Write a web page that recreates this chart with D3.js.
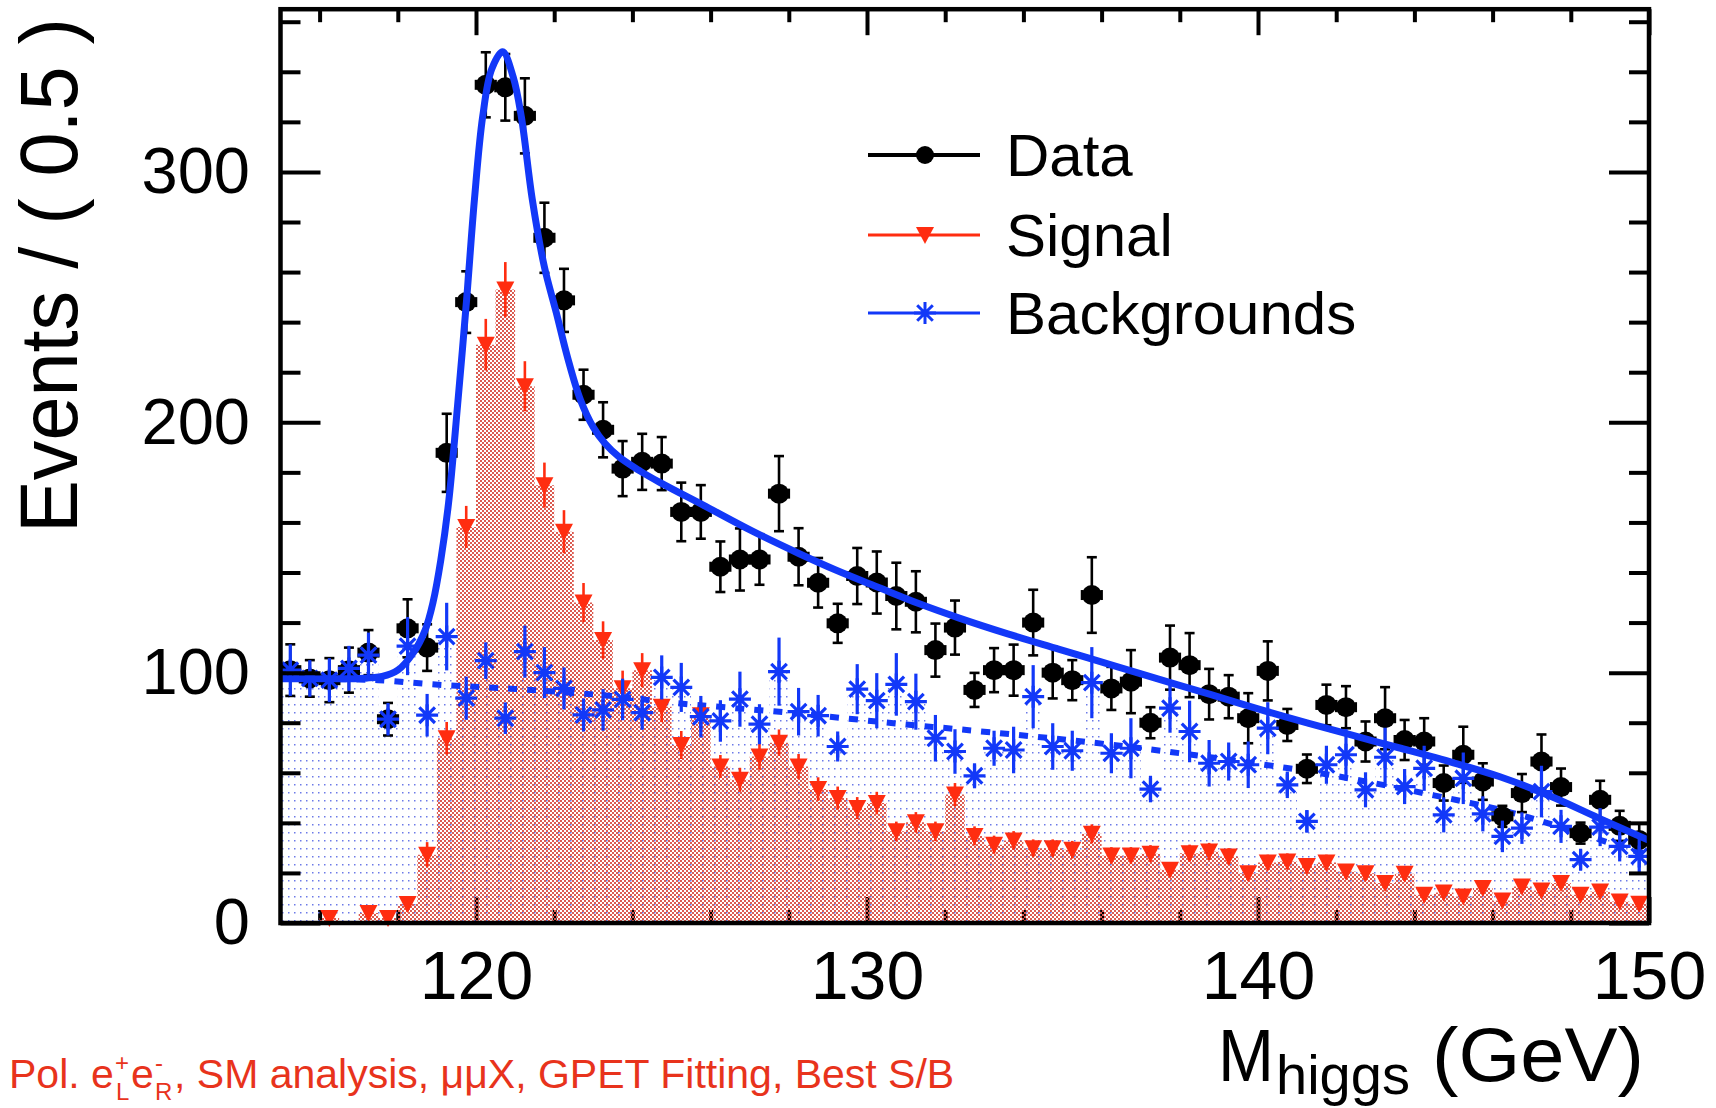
<!DOCTYPE html>
<html>
<head>
<meta charset="utf-8">
<script src="https://cdn.jsdelivr.net/npm/d3@7"></script>
<style>
  body { margin: 0; background: #fff; }
  svg { display: block; font-family: "Liberation Sans", Helvetica, Arial, sans-serif; }
</style>
</head>
<body>
<div id="chart"></div>
<script>
// histogram binning: 70 bins of 0.5 GeV from 115 to 150
const binLow = 115, binWidth = 0.5;

const dataCounts = [101, 97.7, 97, 101, 108, 81.4, 117.7, 110, 187.8, 248,
  334.8, 333.8, 322.4, 273.7, 248.7, 211, 197, 181.5, 184.2, 183.5,
  164.2, 164.2, 142.3, 145.2, 145.2, 171.5, 146.3, 135.9, 119.7, 138.6,
  136, 130.6, 128.3, 109, 118, 93.1, 101, 101, 120, 100,
  97, 131, 93.7, 96.4, 80, 106, 103, 91.4, 90.4, 81.8,
  100.7, 79.1, 61.6, 87.1, 86.2, 72.5, 81.8, 73.1, 72.5, 55.9,
  67.2, 56.5, 42.6, 51.9, 64.5, 54.3, 35.9, 49.2, 38.8, 33.2];
const dataErrors = [10.3, 7.3, 8.8, 9, 9, 6.5, 11.6, 9.3, 15.6, 12.3,
  13, 13.3, 15, 14, 12.6, 10, 11, 11, 11.2, 10.6,
  11.7, 10.7, 10.1, 12.4, 10.1, 15, 11.4, 9.9, 7.8, 11.2,
  12.4, 13.3, 12.2, 10.6, 10.8, 6.8, 8.8, 10.2, 13.1, 10.3,
  8, 15.1, 8.6, 12.6, 6.2, 12.8, 12.8, 10.1, 8.6, 10,
  11.8, 6.4, 5.7, 8.1, 8.4, 8, 12.4, 8, 9.3, 7,
  11.2, 7.3, 4.2, 7.6, 10.8, 7.4, 4.2, 7.6, 6, 6.6];

const signalCounts = [0, 0, 2, 0, 4, 2, 7.6, 27.3, 73.8, 158.2,
  231, 253, 214.4, 174.9, 156.3, 128, 113, 93.8, 101, 86.4,
  71.1, 83, 62.5, 57.2, 66.5, 72, 62.5, 53.5, 49.9, 45.9,
  47.9, 36.6, 40.2, 36.6, 51.3, 34.8, 31.3, 33, 29.9, 29.9,
  29.3, 35.6, 27, 27, 27.7, 21.3, 27.9, 28.6, 26.6, 19.9,
  24.2, 24.6, 22.8, 24.2, 20.6, 19.9, 16, 19.7, 11.3, 12.2,
  10.6, 14, 9, 14.6, 13, 16, 11.3, 12.6, 8.6, 7.7];
const signalErrors = [0, 0, 1.5, 0, 2, 1.5, 3, 5, 6.5, 8.4,
  10.3, 11, 10, 9, 8.6, 7.8, 7.5, 7, 6.8, 6.2,
  5.6, 6, 4.6, 4.8, 5.3, 5.3, 5, 4.7, 4.6, 4.4,
  4.5, 3.9, 4.1, 3.9, 4.6, 3.8, 3.6, 3.7, 3.5, 3.5,
  3.5, 3.8, 3.3, 3.3, 3.4, 3, 3.4, 3.4, 3.3, 2.9,
  3.1, 3.2, 3, 3.1, 2.9, 2.9, 2.6, 2.9, 2.2, 2.3,
  2.1, 2.5, 2, 2.5, 2.3, 2.6, 2.2, 2.3, 1.9, 1.8];

const bkgCounts = [101, 97.7, 97, 101.7, 107, 81.4, 110.6, 83, 114.4, 89.8,
  104.8, 81.8, 108.4, 100, 93.7, 83.1, 85.1, 89.3, 84, 98.1,
  94.1, 82.4, 80.7, 89.4, 79.4, 100.4, 84.4, 82.8, 70.5, 93.4,
  88.8, 95.3, 88.4, 73.8, 68.5, 58.8, 69.8, 69.1, 90.4, 70.5,
  68.8, 96, 67.8, 69.8, 53.5, 85.8, 76.5, 63.8, 64.5, 63.2,
  77.8, 55.2, 40.6, 63.2, 67.2, 53.2, 66.2, 54.5, 61.8, 43.2,
  57.8, 43.6, 34.6, 37.9, 52.5, 38.6, 25.3, 38.3, 30.6, 26.6];
const bkgErrors = [10.3, 7.3, 8.8, 9, 9, 6.5, 11.6, 8.5, 13.5, 8.6,
  7.3, 6.3, 10.4, 10.2, 8.4, 6.6, 8.3, 8.3, 6.8, 8.8,
  9.8, 8.3, 8.3, 11, 8, 13.6, 9.5, 8.3, 6, 10,
  11, 12.5, 11.2, 9.3, 8.9, 5, 7, 9.3, 12.6, 9.3,
  8, 14.2, 8, 12, 5.3, 9.8, 12.3, 9.3, 7.6, 9.3,
  10.4, 5.3, 4.5, 7.6, 10.3, 7, 11.8, 7, 9, 7,
  10.3, 7, 6.3, 6.3, 10.3, 6.6, 4, 7.6, 6, 7];

// fitted curves (mass in GeV, events)
const fitTotalMass = [115, 116, 117, 117.6, 118, 118.4, 118.7, 118.9, 119.1, 119.3,
  119.53, 119.76, 119.96, 120.17, 120.4, 120.68, 120.95, 121.16, 121.44, 121.75,
  122.05, 122.34, 122.67, 123, 123.3, 123.67, 124.2, 124.7, 125.8, 127.07,
  128.27, 129.2, 130.3, 131.34, 132.36, 133.6, 134.92, 136.2, 137.5, 138.8,
  140, 141.3, 142.5, 143.6, 145, 146.17, 147.5, 148.7, 150];
const fitTotalVal = [97.6, 97.6, 97.7, 98.5, 101, 108, 117, 128, 145, 168,
  207, 249, 289, 322, 341, 348, 338, 322, 289, 262,
  244, 226, 209, 198, 191.5, 186, 180.5, 176, 167, 156.5,
  147.5, 141, 134, 127.5, 121.8, 115.5, 109.3, 103.3, 97.2, 91.2,
  85.5, 79.7, 74.6, 70, 64, 58.5, 50.5, 42, 33];
const fitBkgMass = [115, 116.5, 117.5, 119.2, 121, 123.6, 125, 128, 131, 132.4,
  135.8, 138.4, 140.7, 141.9, 144.5, 146.5, 148.3, 149.6, 150];
const fitBkgVal = [97.6, 97.4, 97, 95, 93.5, 90.5, 88, 84, 79.3, 77.3,
  72, 67, 62, 59, 51, 44, 35.5, 29, 27.5];

const xTicksMajor = [120, 130, 140, 150];
const yTicksMajor = [0, 100, 200, 300];
const legendLabels = ["Data", "Signal", "Backgrounds"];

const W = 1716, H = 1108;
const blue = "#1238f8", red = "#ff2d10", noteRed = "#e8331c";

const svg = d3.select("#chart").append("svg")
  .attr("width", W).attr("height", H);

const x = d3.scaleLinear().domain([115, 150]).range([280.5, 1649]);
const y = d3.scaleLinear().domain([0, 365]).range([923, 9.2]);

// fill patterns (ROOT style dots / checker)
const defs = svg.append("defs");
const dots = defs.append("pattern").attr("id", "bkgDots")
  .attr("patternUnits", "userSpaceOnUse").attr("width", 6).attr("height", 8);
dots.append("rect").attr("x", 0).attr("y", 0).attr("width", 1.5).attr("height", 1.5).attr("fill", "#6c7ae8");
const check = defs.append("pattern").attr("id", "sigCheck")
  .attr("patternUnits", "userSpaceOnUse").attr("width", 4).attr("height", 4);
check.append("rect").attr("x", 0).attr("y", 0).attr("width", 2).attr("height", 2).attr("fill", "#dc5a50");
check.append("rect").attr("x", 2).attr("y", 2).attr("width", 2).attr("height", 2).attr("fill", "#dc5a50");

const centers = dataCounts.map((d, i) => binLow + binWidth * (i + 0.5));

function styleTicks(g) {
  g.select(".domain").remove();
  g.selectAll(".tick line").attr("stroke", "#000").attr("stroke-width", 4);
}

// bottom axis (ticks sit under the fills)
const minorX = d3.range(116, 150, 2).filter(v => v % 10 !== 0);
const minorY = d3.range(20, 365, 20).filter(v => v % 100 !== 0);

svg.append("g").attr("transform", `translate(0,${y(0)})`)
  .call(d3.axisBottom(x).tickValues(xTicksMajor).tickSize(-26).tickPadding(28).tickFormat(d3.format("d")))
  .call(styleTicks)
  .call(g => g.selectAll("text").attr("font-size", 68).attr("fill", "#000")
    .attr("font-family", "'Liberation Sans', Helvetica, Arial, sans-serif"));
svg.append("g").attr("transform", `translate(0,${y(0)})`)
  .call(d3.axisBottom(x).tickValues(minorX).tickSize(-13).tickFormat(""))
  .call(styleTicks);

// histogram fills
function stepPoints(vals) {
  const pts = vals.map((v, i) => [binLow + binWidth * i, v]);
  pts.push([binLow + binWidth * vals.length, vals[vals.length - 1]]);
  return pts;
}
const stepArea = d3.area()
  .x(d => x(d[0])).y0(y(0)).y1(d => y(d[1]))
  .curve(d3.curveStepAfter);

svg.append("path").datum(stepPoints(bkgCounts))
  .attr("d", stepArea).attr("fill", "url(#bkgDots)");
svg.append("path").datum(stepPoints(signalCounts))
  .attr("d", stepArea).attr("fill", "url(#sigCheck)");

// background fit component (dashed)
const fitLine = d3.line().x(d => x(d[0])).y(d => y(d[1])).curve(d3.curveCatmullRom.alpha(0.5));
svg.append("path").datum(fitBkgMass.map((m, i) => [m, fitBkgVal[i]]))
  .attr("d", fitLine).attr("fill", "none").attr("stroke", blue)
  .attr("stroke-width", 6).attr("stroke-dasharray", "9,10");

// data points with error bars
const half = binWidth / 2;
const gData = svg.append("g").attr("stroke", "#000").attr("stroke-width", 2.6);
centers.forEach((c, i) => {
  const v = dataCounts[i], e = dataErrors[i];
  const cx = x(c), cy = y(v);
  gData.append("line").attr("x1", cx).attr("x2", cx).attr("y1", y(v - e)).attr("y2", y(v + e));
  gData.append("line").attr("x1", cx - 5).attr("x2", cx + 5).attr("y1", y(v - e)).attr("y2", y(v - e));
  gData.append("line").attr("x1", cx - 5).attr("x2", cx + 5).attr("y1", y(v + e)).attr("y2", y(v + e));
  gData.append("line").attr("x1", x(c - half)).attr("x2", x(c + half)).attr("y1", cy).attr("y2", cy);
  gData.append("line").attr("x1", x(c - half)).attr("x2", x(c - half)).attr("y1", cy - 5).attr("y2", cy + 5);
  gData.append("line").attr("x1", x(c + half)).attr("x2", x(c + half)).attr("y1", cy - 5).attr("y2", cy + 5);
});
gData.selectAll("circle").data(centers).enter().append("circle")
  .attr("cx", d => x(d)).attr("cy", (d, i) => y(dataCounts[i]))
  .attr("r", 10).attr("fill", "#000").attr("stroke", "none");

// signal triangles
const triDown = "M-9,-8L9,-8L0,9Z";
const gSig = svg.append("g");
centers.forEach((c, i) => {
  const v = signalCounts[i], e = signalErrors[i];
  if (v <= 0) return;
  gSig.append("line").attr("x1", x(c)).attr("x2", x(c))
    .attr("y1", y(v - e)).attr("y2", y(v + e))
    .attr("stroke", red).attr("stroke-width", 2.6);
  gSig.append("path").attr("d", triDown)
    .attr("transform", `translate(${x(c)},${y(v)})`).attr("fill", red);
});

// background asterisks
const star = "M-11,0H11M0,-11V11M-7.8,-7.8L7.8,7.8M-7.8,7.8L7.8,-7.8";
const gBkg = svg.append("g").attr("stroke", blue).attr("stroke-width", 3.2).attr("fill", "none");
centers.forEach((c, i) => {
  const v = bkgCounts[i], e = bkgErrors[i];
  gBkg.append("line").attr("x1", x(c)).attr("x2", x(c)).attr("y1", y(v - e)).attr("y2", y(v + e));
  gBkg.append("path").attr("d", star).attr("transform", `translate(${x(c)},${y(v)})`);
});

// total fit
svg.append("path").datum(fitTotalMass.map((m, i) => [m, fitTotalVal[i]]))
  .attr("d", fitLine).attr("fill", "none").attr("stroke", blue).attr("stroke-width", 7);

// remaining axes
svg.append("g").attr("transform", `translate(${x(115)},0)`)
  .call(d3.axisLeft(y).tickValues(yTicksMajor).tickSize(-40).tickPadding(30.5).tickFormat(d3.format("d")))
  .call(styleTicks)
  .call(g => g.selectAll("text").attr("font-size", 65).attr("fill", "#000")
    .attr("font-family", "'Liberation Sans', Helvetica, Arial, sans-serif"));
svg.append("g").attr("transform", `translate(${x(115)},0)`)
  .call(d3.axisLeft(y).tickValues(minorY).tickSize(-20).tickFormat(""))
  .call(styleTicks);
svg.append("g").attr("transform", `translate(${x(150)},0)`)
  .call(d3.axisRight(y).tickValues(yTicksMajor).tickSize(-40).tickFormat(""))
  .call(styleTicks);
svg.append("g").attr("transform", `translate(${x(150)},0)`)
  .call(d3.axisRight(y).tickValues(minorY).tickSize(-20).tickFormat(""))
  .call(styleTicks);
svg.append("g").attr("transform", `translate(0,${y(365)})`)
  .call(d3.axisTop(x).tickValues(xTicksMajor).tickSize(-26).tickFormat(""))
  .call(styleTicks);
svg.append("g").attr("transform", `translate(0,${y(365)})`)
  .call(d3.axisTop(x).tickValues(minorX).tickSize(-13).tickFormat(""))
  .call(styleTicks);

// frame
svg.append("rect")
  .attr("x", x(115)).attr("y", y(365))
  .attr("width", x(150) - x(115)).attr("height", y(0) - y(365))
  .attr("fill", "none").attr("stroke", "#000").attr("stroke-width", 4.5);

// legend
const legendY = [155, 235, 313];
const legendColor = ["#000", red, blue];
const lg = svg.append("g");
legendLabels.forEach((lab, i) => {
  const ly = legendY[i];
  lg.append("line").attr("x1", 868).attr("x2", 980).attr("y1", ly).attr("y2", ly)
    .attr("stroke", legendColor[i]).attr("stroke-width", i === 0 ? 4 : 3);
  if (i === 0) lg.append("circle").attr("cx", 925).attr("cy", ly).attr("r", 9).attr("fill", "#000");
  if (i === 1) lg.append("path").attr("d", triDown).attr("transform", `translate(925,${ly})`).attr("fill", red);
  if (i === 2) lg.append("path").attr("d", star).attr("transform", `translate(925,${ly})`)
    .attr("stroke", blue).attr("stroke-width", 3).attr("fill", "none");
  lg.append("text").attr("x", 1006).attr("y", ly + 21).attr("font-size", 60).attr("fill", "#000").text(lab);
});

// axis titles
svg.append("text")
  .attr("transform", "translate(77,0) rotate(-90)")
  .attr("x", -18).attr("y", 0).attr("text-anchor", "end")
  .attr("font-size", 82).attr("textLength", 515).attr("lengthAdjust", "spacingAndGlyphs")
  .text("Events / ( 0.5 )");

svg.append("text").attr("x", 1218).attr("y", 1081).attr("font-size", 74)
  .attr("textLength", 56).attr("lengthAdjust", "spacingAndGlyphs").text("M");
svg.append("text").attr("x", 1276).attr("y", 1094).attr("font-size", 56).text("higgs");
svg.append("text").attr("x", 1432).attr("y", 1081).attr("font-size", 76)
  .attr("textLength", 212).attr("lengthAdjust", "spacingAndGlyphs").text("(GeV)");

// footnote, split so the small indices sit in their own gaps
const noteY = 1088;
function noteText(tx, ty, size, str) {
  return svg.append("text").attr("x", tx).attr("y", ty)
    .attr("font-size", size).attr("fill", noteRed).text(str);
}
noteText(9, noteY, 41, "Pol. e");
noteText(115, noteY - 17, 24, "+");
noteText(116, noteY + 12, 24, "L");
noteText(131, noteY, 41, "e");
noteText(155, noteY - 17, 24, "-");
noteText(155, noteY + 12, 24, "R");
noteText(174, noteY, 41, " , SM analysis, \u03bc\u03bcX, GPET Fitting, Best S/B");
</script>
</body>
</html>
